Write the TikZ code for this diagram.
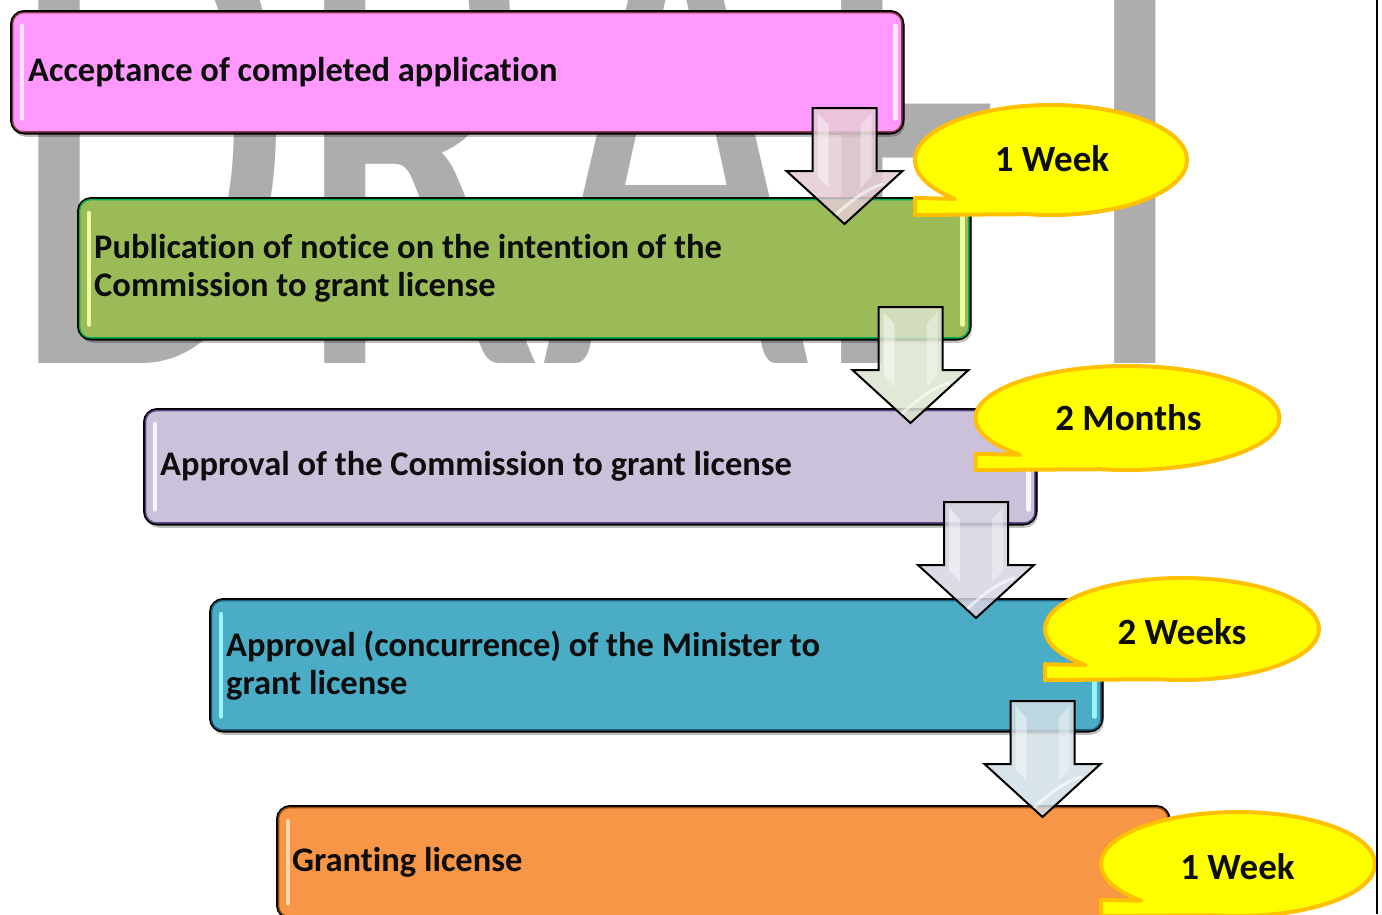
\documentclass[tikz,border=0pt]{standalone}
\usepackage{fontspec}
\setmainfont{Carlito}[Ligatures=NoCommon]
\usepackage{graphicx}
\usetikzlibrary{shadows,calc}
\definecolor{wm}{HTML}{ADADAD}
\definecolor{pinkfill}{HTML}{FF99FF}
\definecolor{pinkin}{HTML}{8B3A4A}
\definecolor{pinkhl}{HTML}{FFE8FF}
\definecolor{greenfill}{HTML}{9BBB59}
\definecolor{greenin}{HTML}{00B050}
\definecolor{greenhl}{HTML}{EEFF9E}
\definecolor{lavfill}{HTML}{CCC1DA}
\definecolor{lavin}{HTML}{5F4B8B}
\definecolor{lavhl}{HTML}{F7F4FC}
\definecolor{tealfill}{HTML}{4BACC6}
\definecolor{tealin}{HTML}{1F5F7F}
\definecolor{tealhl}{HTML}{9AF4FF}
\definecolor{orfill}{HTML}{F79646}
\definecolor{orin}{HTML}{984807}
\definecolor{orhl}{HTML}{FFD6A8}
\definecolor{arr1}{HTML}{E6CCD4}
\definecolor{arr2}{HTML}{DCE4CE}
\definecolor{arr3}{HTML}{D9D5E2}
\definecolor{arr4}{HTML}{D2E0E6}
\definecolor{bubfill}{HTML}{FFFF00}
\definecolor{bubline}{HTML}{FFC000}
\tikzset{
  box/.style={rectangle, rounded corners=13pt, draw=black, line width=2.5pt,
    minimum width=892pt, inner sep=0pt, anchor=north west,
    drop shadow={shadow xshift=1.5pt, shadow yshift=-3.5pt, opacity=0.25, fill=black}},
  boxtext/.style={anchor=west, align=left, inner sep=0pt,
    font=\fontsize{34.5}{38}\selectfont\bfseries, text=black!95},
  innerline/.style={draw=#1, line width=1.4pt, rounded corners=11pt},
  hl/.style={draw=#1, line width=4.5pt, line cap=round},
  arrowline/.style={draw=black, line width=2pt, line join=miter, fill opacity=0.85},
  bubblestyle/.style={fill=bubfill, draw=bubline, line width=4pt, line join=round},
  bubbletext/.style={font=\fontsize{37}{40}\selectfont\bfseries, text=black!95, inner sep=0pt},
}
\newcommand\boxdeco[3]{% node, inner colour, highlight colour
  \draw[innerline=#2] ([shift={(2.6,2.6)}]#1.north west) rectangle ([shift={(-2.6,-2.6)}]#1.south east);
  \draw[hl=#3] ([shift={(12,16)}]#1.north west) -- ([shift={(12,-16)}]#1.south west);
  \draw[hl=#3] ([shift={(-9,16)}]#1.north east) -- ([shift={(-9,-16)}]#1.south east);
}
\newcommand\blockarrow[4]{% name, x, y, fill
  \begin{scope}[shift={(#2,#3)}]
    \coordinate (#1) at (0,0);
    \draw[arrowline, fill=#4] (-32,0) -- (32,0) -- (32,63) -- (58,63) -- (0,116) -- (-58,63) -- (-32,63) -- cycle;
    \fill[white, opacity=0.45] (-27,5) -- (-16,17) -- (-16,80) -- (-27,68) -- cycle;
    \fill[white, opacity=0.35] (16,17) -- (27,5) -- (27,68) -- (16,80) -- cycle;
    \draw[white, opacity=0.6, line width=3pt, line cap=round] (-8,106) .. controls (8,92) and (20,82) .. (38,76);
  \end{scope}}
\newcommand\bubble[8]{% name, cx, cy, rx, ry, text, text x, text y
  \draw[bubblestyle] ({#2-#4},{#3+0.69*#5}) -- ({#2+#4*cos(135)},{#3+#5*sin(135)})
    arc[start angle=135, end angle=460, x radius=#4, y radius=#5] -- ({#2-#4},{#3+#5}) -- cycle;
  \node[bubbletext] (#1) at (#7,#8) {#6};
}
\begin{document}
\begin{tikzpicture}[x=1pt, y=-1pt]
\useasboundingbox (0,0) rectangle (1382,914);
\clip (0,0) rectangle (1382,914);
\fill[white] (0,0) rectangle (1382,914);
% watermark
\node[anchor=base west, inner sep=0pt, text=wm] (wmark) at (7,363)
  {\scalebox{0.99}[1.6]{\fontsize{467}{467}\selectfont DRAFT}};
% boxes
\node[box, fill=pinkfill, minimum height=122pt] (b1) at (10,10) {};
\boxdeco{b1}{pinkin}{pinkhl}
\node[boxtext] (t1) at ([xshift=18]b1.west) {Acceptance of completed application};
\node[box, fill=greenfill, minimum height=141pt] (b2) at (77,197) {};
\boxdeco{b2}{greenin}{greenhl}
\node[boxtext] (t2) at ([xshift=17]b2.west) {Publication of notice on the intention of the\\Commission to grant license};
\node[box, fill=lavfill, minimum height=115pt] (b3) at (143,408) {};
\boxdeco{b3}{lavin}{lavhl}
\node[boxtext] (t3) at ([xshift=17]b3.west) {Approval of the Commission to grant license};
\node[box, fill=tealfill, minimum height=132pt] (b4) at (209,598) {};
\boxdeco{b4}{tealin}{tealhl}
\node[boxtext] (t4) at ([xshift=17]b4.west) {Approval (concurrence) of the Minister to\\grant license};
\node[box, fill=orfill, minimum height=112pt] (b5) at (276,805) {};
\boxdeco{b5}{orin}{orhl}
\node[boxtext] (t5) at ([xshift=16]b5.west) {Granting license};
% block arrows
\blockarrow{a1}{844.5}{108}{arr1}
\blockarrow{a2}{910.5}{307}{arr2}
\blockarrow{a3}{976}{502}{arr3}
\blockarrow{a4}{1042.5}{701}{arr4}
% callouts
\bubble{c1}{1051}{160}{136}{55}{1 Week}{1052}{158.5}
\bubble{c2}{1127.5}{418}{152}{52}{2 Months}{1128.5}{418}
\bubble{c3}{1182}{629}{137}{51}{2 Weeks}{1182}{632}
\bubble{c4}{1238}{864}{137}{52}{1 Week}{1237.5}{867}
% right frame line
\draw[line width=2.5pt] (1377,0) -- (1377,914);
\end{tikzpicture}
\end{document}
